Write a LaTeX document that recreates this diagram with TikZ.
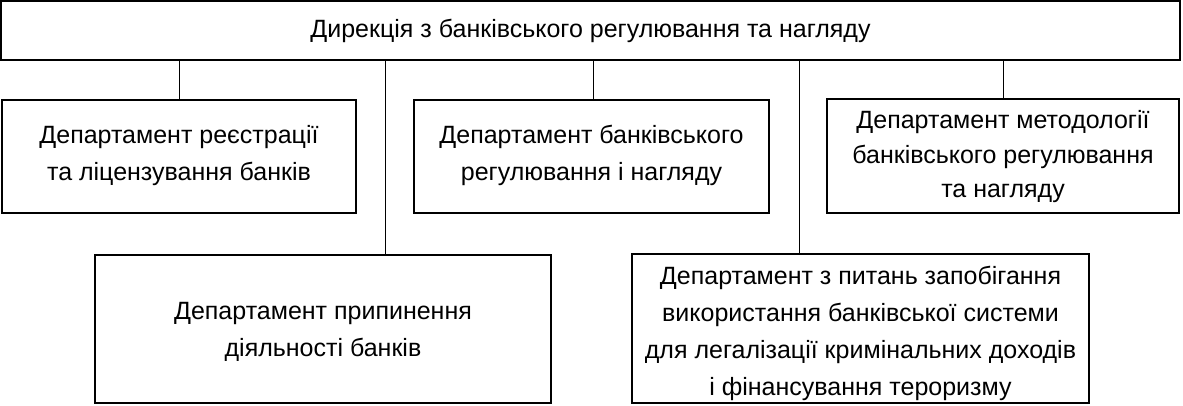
\documentclass[tikz,border=0pt]{standalone}
\usepackage{fontspec}
\setmainfont{Liberation Sans}
\begin{document}
\begin{tikzpicture}[x=1pt,y=-1pt,
  box/.style={draw,line width=1.8pt,inner sep=0pt},
  lbl/.style={inner sep=0pt,align=center,font=\fontsize{25}{37}\selectfont},
  link/.style={line width=1pt}]
\useasboundingbox (0,0) rectangle (1183,405);
\node[box,minimum width=1179pt,minimum height=59pt] (top) at (590.5,30.5) {};
\node[box,minimum width=354pt,minimum height=113pt] (b1) at (179,156.5) {};
\node[box,minimum width=355pt,minimum height=113pt] (b2) at (591.5,156.5) {};
\node[box,minimum width=352pt,minimum height=114pt] (b3) at (1003,156) {};
\node[box,minimum width=456pt,minimum height=148pt] (b4) at (323,329) {};
\node[box,minimum width=457pt,minimum height=149pt] (b5) at (860.5,328.5) {};
\node[lbl] (t0) at (top.center) {Дирекція з банківського регулювання та нагляду};
\node[lbl,yshift=1pt] (t1) at (b1.center) {Департамент реєстрації\\та ліцензування банків};
\node[lbl,yshift=1pt] (t2) at (b2.center) {Департамент банківського\\регулювання і нагляду};
\node[lbl,font=\fontsize{25}{34.5}\selectfont,yshift=-1pt] (t3) at (b3.center) {Департамент методології\\банківського регулювання\\та нагляду};
\node[lbl,yshift=-2.5pt] (t4) at (b4.center) {Департамент припинення\\діяльності банків};
\node[lbl,yshift=-5pt] (t5) at (b5.center) {Департамент з питань запобігання\\використання банківської системи\\для легалізації кримінальних доходів\\і фінансування тероризму};
\draw[link] (top.south -| b1.north) -- (b1.north);
\draw[link] (top.south -| {593,0}) -- (b2.north -| {593,0});
\draw[link] (top.south -| b3.north) -- (b3.north);
\draw[link] (top.south -| {385,0}) -- (b4.north -| {385,0});
\draw[link] (top.south -| {799,0}) -- (b5.north -| {799,0});
\end{tikzpicture}
\end{document}
